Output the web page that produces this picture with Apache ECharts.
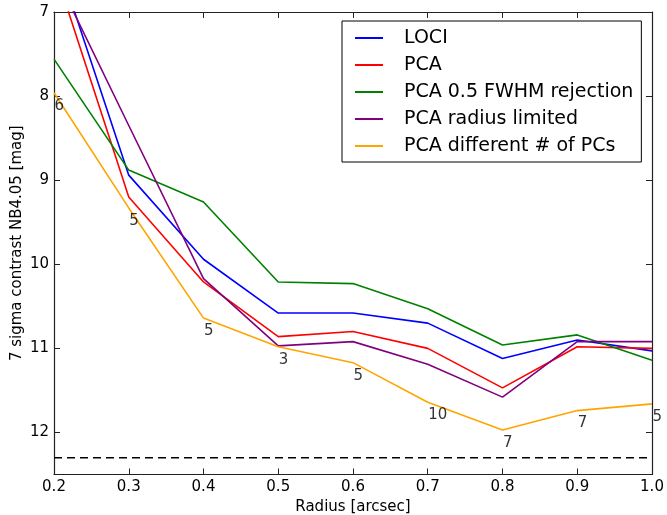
<!DOCTYPE html>
<html>
<head>
<meta charset="utf-8">
<script src="https://cdn.jsdelivr.net/npm/echarts@6/dist/echarts.min.js"></script>
<style>html,body{margin:0;padding:0;background:#fff}#c{width:667px;height:515px}</style>
</head>
<body>
<div id="c"></div>
<script>
var radius = [0.2, 0.3, 0.4, 0.5, 0.6, 0.7, 0.8, 0.9, 1.0];
var loci = [6.26, 8.94, 9.94, 10.58, 10.58, 10.70, 11.12, 10.90, 11.03];
var pca = [6.47, 9.20, 10.21, 10.86, 10.80, 11.00, 11.47, 10.98, 11.00];
var pcaFwhm = [7.56, 8.88, 9.26, 10.21, 10.23, 10.53, 10.96, 10.84, 11.14];
var pcaRadius = [6.52, 8.35, 10.17, 10.97, 10.92, 11.19, 11.58, 10.92, 10.92];
var pcaDiffPCs = [7.96, 9.33, 10.64, 10.98, 11.17, 11.64, 11.97, 11.74, 11.66];
var numPCs = [6, 5, 5, 3, 5, 10, 7, 7, 5];
var limitRadius = [0.2, 1.0];
var limitValue = [12.3, 12.3];
var yTicks = [7, 8, 9, 10, 11, 12];

function pairs(xs, ys) { return xs.map(function (x, i) { return [x, ys[i]]; }); }

var names = ['LOCI', 'PCA', 'PCA 0.5 FWHM rejection', 'PCA radius limited', 'PCA different # of PCs'];
var colors = ['#0000ff', '#ff0000', '#008000', '#800080', '#ffa500'];
var values = [loci, pca, pcaFwhm, pcaRadius, pcaDiffPCs];

var series = names.map(function (n, i) {
  return {
    name: n, type: 'line', data: pairs(radius, values[i]),
    symbol: 'none', clip: true, z: 3,
    lineStyle: { color: colors[i], width: 1.6 }, itemStyle: { color: colors[i] }
  };
});
series.push({
  type: 'scatter', data: pairs(radius, pcaDiffPCs), symbolSize: 1,
  itemStyle: { color: 'rgba(0,0,0,0)' }, silent: true, clip: false, z: 4,
  label: {
    show: true, position: [1, 6], color: '#000', fontSize: 15,
    fontFamily: 'DejaVu Sans',
    formatter: function (p) { return String(numPCs[p.dataIndex]); }
  }
});
series.push({
  type: 'line', data: pairs(limitRadius, limitValue), symbol: 'none', z: 2,
  lineStyle: { color: '#000', width: 1.6, type: [8, 5] }
});

var axisCommon = {
  axisLine: { show: true, lineStyle: { color: '#222', width: 1.2 } },
  axisTick: { show: true, inside: true, length: 6, lineStyle: { color: '#222', width: 1 } },
  splitLine: { show: false }
};

var option = {
  animation: false,
  backgroundColor: '#fff',
  textStyle: { fontFamily: 'DejaVu Sans' },
  grid: { left: 54, right: 15, top: 12, bottom: 40.5, containLabel: false, outerBoundsMode: 'none' },
  legend: {
    orient: 'vertical', left: 342, top: 21,
    data: names.map(function (n) { return { name: n, icon: 'rect' }; }),
    itemWidth: 28, itemHeight: 2, itemGap: 7,
    padding: [7, 8, 6, 13],
    borderColor: '#000', borderWidth: 1, backgroundColor: '#fff',
    textStyle: { fontSize: 19, color: '#000', lineHeight: 20, padding: [0, 0, 0, 16], fontFamily: 'DejaVu Sans' }
  },
  xAxis: [
    Object.assign({}, axisCommon, {
      type: 'value', min: 0.2, max: 1.0, interval: 0.1, position: 'bottom',
      name: 'Radius [arcsec]', nameLocation: 'middle', nameGap: 21,
      nameTextStyle: { fontSize: 15, color: '#000', fontFamily: 'DejaVu Sans' },
      axisLabel: { fontSize: 15, color: '#000', margin: 5, fontFamily: 'DejaVu Sans',
        formatter: function (v) { return v.toFixed(1); } }
    }),
    Object.assign({}, axisCommon, {
      type: 'value', min: 0.2, max: 1.0, interval: 0.1, position: 'top',
      axisLabel: { show: false }
    })
  ],
  yAxis: [
    Object.assign({}, axisCommon, {
      type: 'value', min: 7, max: 12.5, interval: 1, inverse: true, position: 'left',
      name: '7 sigma contrast NB4.05 [mag]', nameLocation: 'middle', nameGap: 37, nameRotate: 90,
      nameMoveOverlap: false,
      nameTextStyle: { fontSize: 15, color: '#000', fontFamily: 'DejaVu Sans', verticalAlign: 'middle' },
      axisLabel: { fontSize: 15, color: '#000', margin: 5, fontFamily: 'DejaVu Sans',
        formatter: function (v) { return yTicks.indexOf(v) >= 0 ? String(v) : ''; } }
    }),
    Object.assign({}, axisCommon, {
      type: 'value', min: 7, max: 12.5, interval: 1, inverse: true, position: 'right',
      axisLabel: { show: false }
    })
  ],
  series: series
};

var chart = echarts.init(document.getElementById('c'), null, { renderer: 'canvas' });
chart.setOption(option);
</script>
</body>
</html>
